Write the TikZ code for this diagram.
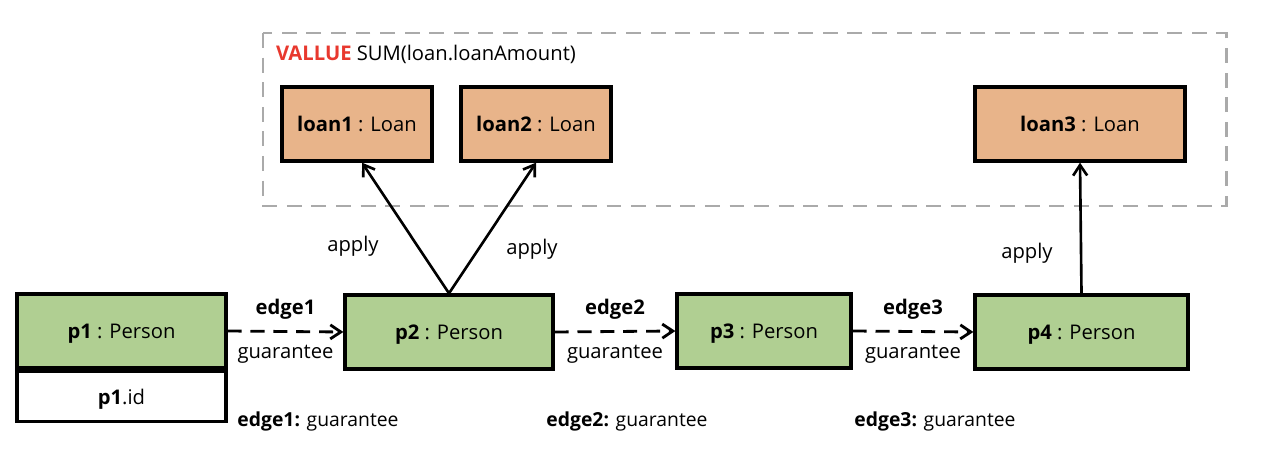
\documentclass[tikz,border=0pt]{standalone}
\usepackage{fontspec}
\setmainfont{Open Sans}
\usetikzlibrary{arrows.meta}

\definecolor{persongreen}{RGB}{176,207,146}
\definecolor{loanorange}{RGB}{232,180,138}
\definecolor{valuered}{RGB}{232,56,46}
\definecolor{boxgray}{RGB}{170,170,170}

\tikzset{
    entity/.style={draw, line width=1.9pt, minimum height=1.48cm, inner sep=0pt,
        font=\fontsize{11.5}{13}\selectfont, text depth=0pt},
    person/.style={entity, fill=persongreen},
    loan/.style={entity, fill=loanorange, minimum width=3cm},
    guarantee/.style={line width=1.6pt, dash pattern=on 8pt off 5pt, -{Straight Barb[length=6pt,width=8pt]}},
    apply/.style={line width=1.5pt, -{Straight Barb[length=6pt,width=8pt]}},
    lbl/.style={font=\fontsize{11.5}{13}\selectfont, inner sep=1pt}
}

\begin{document}
\begin{tikzpicture}[x=0.02cm, y=-0.02cm]
\useasboundingbox (0,0) rectangle (1287,452);

% aggregation scope
\draw[boxgray, line width=1.7pt, dash pattern=on 8.5pt off 5.5pt] (263,33) rectangle (1226,206);
\node[lbl, anchor=west] (value) at (274,54) {\textcolor{valuered}{\textbf{VALLUE}} SUM(loan.loanAmount)};

% loans
\node[loan] (loan1) at (357,124) {\textbf{loan1} : Loan};
\node[loan] (loan2) at (536,124) {\textbf{loan2} : Loan};
\node[loan, minimum width=4.2cm] (loan3) at (1080,124) {\textbf{loan3} : Loan};

% persons
\node[person, minimum width=4.18cm] (p1) at (121.5,331) {\textbf{p1} : Person};
\node[entity, fill=white, minimum width=4.18cm, minimum height=1cm, anchor=north] (p1id) at (p1.south) {\textbf{p1}.id};
\node[person, minimum width=4.16cm] (p2) at (449,332) {\textbf{p2} : Person};
\node[person, minimum width=3.48cm] (p3) at (764,331) {\textbf{p3} : Person};
\node[person, minimum width=4.26cm] (p4) at (1081.5,332) {\textbf{p4} : Person};

% guarantee edges
\draw[guarantee] (p1.east) -- node[lbl, above=5pt] {\textbf{edge1}} node[lbl, below=6pt] {guarantee} (p2.west);
\draw[guarantee] (p2.east) -- node[lbl, above=5pt] {\textbf{edge2}} node[lbl, below=6pt] {guarantee} (p3.west);
\draw[guarantee] (p3.east) -- node[lbl, above=5pt] {\textbf{edge3}} node[lbl, below=6pt] {guarantee} (p4.west);

% apply edges
\draw[apply] (p2.north) -- ([xshift=0.1cm]loan1.south);
\draw[apply] (p2.north) -- (loan2.south);
\draw[apply] (p4.north) -- (loan3.south);
\node[lbl] (apply1) at (353,246) {apply};
\node[lbl] (apply2) at (532,249) {apply};
\node[lbl] (apply3) at (1027,253) {apply};

% edge legend
\node[lbl, font=\fontsize{11}{13}\selectfont] (leg1) at (318,421) {\textbf{edge1:} guarantee};
\node[lbl, font=\fontsize{11}{13}\selectfont] (leg2) at (627,421) {\textbf{edge2:} guarantee};
\node[lbl, font=\fontsize{11}{13}\selectfont] (leg3) at (935,421) {\textbf{edge3:} guarantee};
\end{tikzpicture}
\end{document}
